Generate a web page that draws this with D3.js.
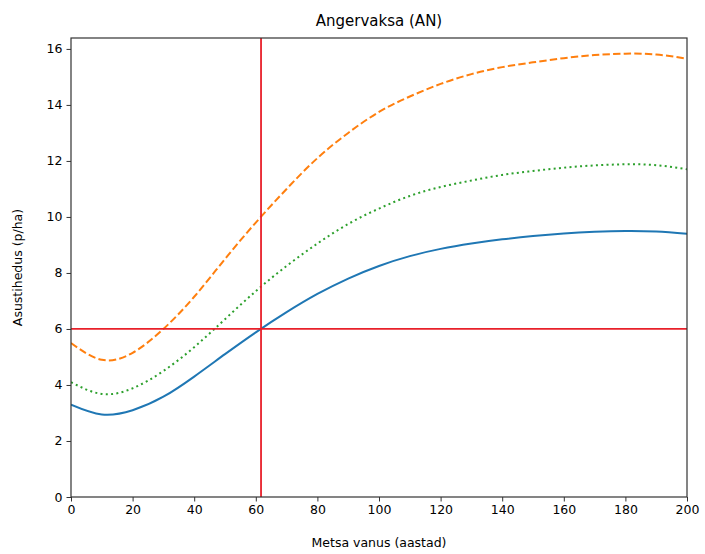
<!DOCTYPE html>
<html><head><meta charset="utf-8">
<script src="https://cdn.jsdelivr.net/npm/d3@7"></script>
<style>body{margin:0;background:#fff}svg{display:block}text{font-family:"DejaVu Sans",sans-serif;fill:#000}</style>
</head><body>
<svg id="c" width="705" height="554"></svg>
<script>
const ages = [0,10,20,30,40,50,60,70,80,90,100,110,120,130,140,150,160,170,180,190,200];
const solidSeries  = [3.3,2.95,3.1,3.58,4.3,5.1,5.88,6.6,7.25,7.8,8.25,8.6,8.86,9.05,9.2,9.32,9.41,9.47,9.5,9.48,9.4];
const dashedSeries = [5.5,4.9,5.15,6.0,7.15,8.5,9.8,11.0,12.1,13.0,13.75,14.3,14.75,15.1,15.35,15.52,15.67,15.78,15.83,15.8,15.65];
const dottedSeries = [4.1,3.68,3.88,4.5,5.35,6.35,7.35,8.25,9.05,9.75,10.3,10.75,11.07,11.3,11.5,11.64,11.76,11.84,11.88,11.85,11.7];
const xTicks = [0,20,40,60,80,100,120,140,160,180,200];
const yTicks = [0,2,4,6,8,10,12,14,16];
const markX = 61.7, markY = 6;

const svg = d3.select("#c");
const L=71,R=687,T=38,B=497;
const x = d3.scaleLinear().domain([0,200]).range([L,R]);
const y = d3.scaleLinear().domain([0,16.39]).range([B,T]);

const g = svg.append("g");
g.append("clipPath").attr("id","clip").append("rect").attr("x",L).attr("y",T).attr("width",R-L).attr("height",B-T);

const line = d3.line().x((d,i)=>x(ages[i])).y(d=>y(d)).curve(d3.curveNatural);
const pl = g.append("g").attr("clip-path","url(#clip)");
pl.append("path").datum(solidSeries).attr("d",line).attr("fill","none").attr("stroke","#1f77b4").attr("stroke-width",2);
pl.append("path").datum(dashedSeries).attr("d",line).attr("fill","none").attr("stroke","#ff7f0e").attr("stroke-width",2).attr("stroke-dasharray","7.4,3.2");
pl.append("path").datum(dottedSeries).attr("d",line).attr("fill","none").attr("stroke","#2ca02c").attr("stroke-width",2).attr("stroke-dasharray","2,3.3");
pl.append("line").attr("x1",x(markX)).attr("x2",x(markX)).attr("y1",T).attr("y2",B).attr("stroke","#e8202a").attr("stroke-width",1.8);
pl.append("line").attr("x1",L).attr("x2",R).attr("y1",y(markY)).attr("y2",y(markY)).attr("stroke","#e8202a").attr("stroke-width",1.8);

const xa = g.append("g").attr("transform",`translate(0,${B})`).call(d3.axisBottom(x).tickValues(xTicks).tickSize(4.5).tickPadding(4).tickFormat(d3.format("d")));
const ya = g.append("g").attr("transform",`translate(${L},0)`).call(d3.axisLeft(y).tickValues(yTicks).tickSize(4.5).tickPadding(4).tickFormat(d3.format("d")));
[xa,ya].forEach(a=>{a.select(".domain").remove();a.selectAll("text").attr("font-size",12.5).attr("font-family","DejaVu Sans").attr("fill","#222");a.selectAll("line").attr("stroke","#333");});

g.append("rect").attr("x",L).attr("y",T).attr("width",R-L).attr("height",B-T).attr("fill","none").attr("stroke","#333").attr("stroke-width",1.2);

svg.append("text").attr("x",(L+R)/2).attr("y",26).attr("text-anchor","middle").attr("font-size",15).text("Angervaksa (AN)");
svg.append("text").attr("x",(L+R)/2).attr("y",547).attr("text-anchor","middle").attr("font-size",12.5).text("Metsa vanus (aastad)");
svg.append("text").attr("transform",`translate(22,${(T+B)/2}) rotate(-90)`).attr("text-anchor","middle").attr("font-size",12.5).text("Asustihedus (p/ha)");
</script>
</body></html>
